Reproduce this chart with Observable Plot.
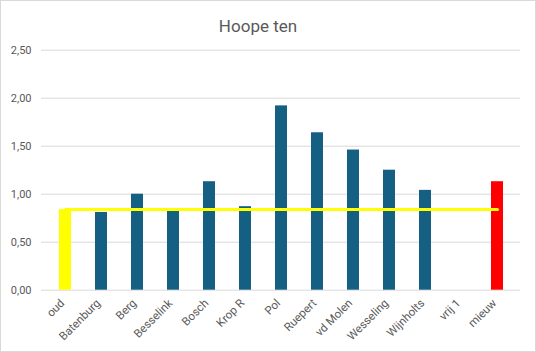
<!DOCTYPE html>
<html>
<head>
<meta charset="utf-8">
<script src="https://cdn.jsdelivr.net/npm/d3@7"></script>
<script src="https://cdn.jsdelivr.net/npm/@observablehq/plot@0.6"></script>
<style>
  html, body { margin: 0; padding: 0; background: #fff; }
  #wrap { position: relative; width: 536px; height: 352px; overflow: hidden; font-family: Roboto, "Open Sans", sans-serif; }
  #border { position: absolute; left: 0; top: 0; width: 536px; height: 352px; box-sizing: border-box; border: 1px solid #d9d9d9; pointer-events: none; }
  #title { position: absolute; left: 0; top: 17px; width: 516px; text-align: center; font-size: 17px; line-height: 19px; color: #595959; }
  #chart { position: absolute; left: 0; top: 0; }
</style>
</head>
<body>
<div id="wrap">
  <div id="chart"></div>
  <div id="title">Hoope ten</div>
  <div id="border"></div>
</div>
<script>
const categories = ["oud", "Batenburg", "Berg", "Besselink", "Bosch", "Krop R", "Pol", "Ruepert", "vd Molen", "Wesseling", "Wijnholts", "vrij 1", "mieuw"];
const values = [0.84, 0.81, 1.00, 0.82, 1.13, 0.87, 1.92, 1.64, 1.46, 1.25, 1.04, 0, 1.13];
const referenceLine = [0.84, 0.84, 0.84, 0.84, 0.84, 0.84, 0.84, 0.84, 0.84, 0.84, 0.84, 0.84, 0.84];
const yTicks = [0, 0.5, 1.0, 1.5, 2.0, 2.5];

const barColor = "#156082";
const specialColors = {oud: "#ffff00", mieuw: "#ff0000"};

const data = categories.map((c, i) => ({cat: c, val: values[i], ref: referenceLine[i]}));

const chart = Plot.plot({
  width: 536,
  height: 352,
  marginLeft: 41,
  marginRight: 16,
  marginTop: 49.7,
  marginBottom: 62.3,
  style: {color: "#595959", fontFamily: "Roboto, 'Open Sans', sans-serif", background: "transparent"},
  x: {type: "band", domain: categories, paddingInner: 0.67, paddingOuter: 0.335, label: null},
  y: {domain: [0, 2.5], label: null},
  color: {type: "identity"},
  marks: [
    Plot.gridY(yTicks, {stroke: "#d9d9d9", strokeOpacity: 1, strokeWidth: 1}),
    Plot.axisY(yTicks, {tickSize: 0, tickPadding: 10, fontSize: 11, label: null, tickFormat: d => d.toFixed(2).replace(".", ",")}),
    Plot.axisX({tickRotate: -45, tickSize: 0, tickPadding: 11, dx: -3, fontSize: 11.5, label: null}),
    Plot.barY(data, {x: "cat", y: "val", fill: d => specialColors[d.cat] || barColor}),
    Plot.lineY(data, {x: "cat", y: "ref", stroke: "#ffff00", strokeWidth: 3})
  ]
});
document.getElementById("chart").appendChild(chart);
</script>
</body>
</html>
